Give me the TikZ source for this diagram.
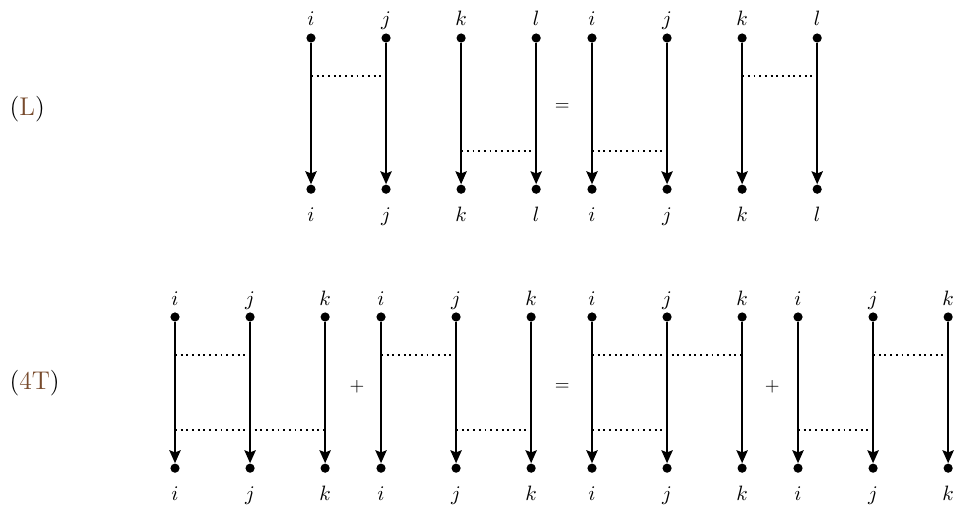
\documentclass[tikz,border=0pt]{standalone}
\usepackage{amsmath, amssymb}
\usepackage{tikz}
\usetikzlibrary{arrows.meta, positioning, calc}

\definecolor{tagbrown}{RGB}{120,75,45}

\begin{document}
\begin{tikzpicture}[
    dot/.style={circle, fill=black, inner sep=0pt, minimum size=0.17cm},
    strand/.style={line width=1pt, -{Stealth[length=2.4mm, width=2.1mm, inset=0.4mm]}},
    chord/.style={dotted, line width=1pt},
    idx/.style={anchor=base, inner sep=0pt, font=\fontsize{10.5}{12}\selectfont},
    op/.style={inner sep=0pt},
    tag/.style={anchor=base west, inner sep=0pt, font=\fontsize{13.5}{15}\selectfont}
]
    \useasboundingbox (0,0) rectangle (17.685,-9.444);

    % (L): 左边
    \node[tag] (tagL) at (0.17,-2.13) {(\textcolor{tagbrown}{L})};
    \begin{scope}[shift={(5.759,-0.704)}]
        \foreach \x/\s in {0/i,1/j,2/k,3/l} {
            \node[dot] (t\s) at (\x*1.39,0) {};
            \node[dot] (b\s) at (\x*1.39,-2.8) {};
            \node[idx] (u\s) at (\x*1.39,0.23) {$\s$};
            \node[idx] (d\s) at (\x*1.39,-3.39) {$\s$};
            \draw[strand] (t\s) -- (b\s);
        }
        \draw[chord] ($(ti)!0.25!(bi)$) -- ($(tj)!0.25!(bj)$);
        \draw[chord] ($(tk)!0.75!(bk)$) -- ($(tl)!0.75!(bl)$);
    \end{scope}
    \node[op] (eqL) at (10.41,-1.98) {$=$};
    \begin{scope}[shift={(10.963,-0.704)}]
        \foreach \x/\s in {0/i,1/j,2/k,3/l} {
            \node[dot] (t\s) at (\x*1.39,0) {};
            \node[dot] (b\s) at (\x*1.39,-2.8) {};
            \node[idx] (u\s) at (\x*1.39,0.23) {$\s$};
            \node[idx] (d\s) at (\x*1.39,-3.39) {$\s$};
            \draw[strand] (t\s) -- (b\s);
        }
        \draw[chord] ($(ti)!0.75!(bi)$) -- ($(tj)!0.75!(bj)$);
        \draw[chord] ($(tk)!0.25!(bk)$) -- ($(tl)!0.25!(bl)$);
    \end{scope}

    % (4T)
    \node[tag] (tagT) at (0.17,-7.22) {(\textcolor{tagbrown}{4T})};
    \begin{scope}[shift={(3.241,-5.87)}]
        \foreach \x/\s in {0/i,1/j,2/k} {
            \node[dot] (t\s) at (\x*1.39,0) {};
            \node[dot] (b\s) at (\x*1.39,-2.8) {};
            \node[idx] (u\s) at (\x*1.39,0.22) {$\s$};
            \node[idx] (d\s) at (\x*1.39,-3.39) {$\s$};
            \draw[strand] (t\s) -- (b\s);
        }
        \draw[chord] ($(ti)!0.25!(bi)$) -- ($(tj)!0.25!(bj)$);
        \draw[chord] ($(ti)!0.75!(bi)$) -- ($(tk)!0.75!(bk)$);
    \end{scope}
    \node[op] (plusA) at (6.61,-7.16) {$+$};
    \begin{scope}[shift={(7.056,-5.87)}]
        \foreach \x/\s in {0/i,1/j,2/k} {
            \node[dot] (t\s) at (\x*1.39,0) {};
            \node[dot] (b\s) at (\x*1.39,-2.8) {};
            \node[idx] (u\s) at (\x*1.39,0.22) {$\s$};
            \node[idx] (d\s) at (\x*1.39,-3.39) {$\s$};
            \draw[strand] (t\s) -- (b\s);
        }
        \draw[chord] ($(ti)!0.25!(bi)$) -- ($(tj)!0.25!(bj)$);
        \draw[chord] ($(tj)!0.75!(bj)$) -- ($(tk)!0.75!(bk)$);
    \end{scope}
    \node[op] (eqT) at (10.41,-7.16) {$=$};
    \begin{scope}[shift={(10.963,-5.87)}]
        \foreach \x/\s in {0/i,1/j,2/k} {
            \node[dot] (t\s) at (\x*1.39,0) {};
            \node[dot] (b\s) at (\x*1.39,-2.8) {};
            \node[idx] (u\s) at (\x*1.39,0.22) {$\s$};
            \node[idx] (d\s) at (\x*1.39,-3.39) {$\s$};
            \draw[strand] (t\s) -- (b\s);
        }
        \draw[chord] ($(ti)!0.25!(bi)$) -- ($(tk)!0.25!(bk)$);
        \draw[chord] ($(ti)!0.75!(bi)$) -- ($(tj)!0.75!(bj)$);
    \end{scope}
    \node[op] (plusB) at (14.30,-7.16) {$+$};
    \begin{scope}[shift={(14.778,-5.87)}]
        \foreach \x/\s in {0/i,1/j,2/k} {
            \node[dot] (t\s) at (\x*1.39,0) {};
            \node[dot] (b\s) at (\x*1.39,-2.8) {};
            \node[idx] (u\s) at (\x*1.39,0.22) {$\s$};
            \node[idx] (d\s) at (\x*1.39,-3.39) {$\s$};
            \draw[strand] (t\s) -- (b\s);
        }
        \draw[chord] ($(tj)!0.25!(bj)$) -- ($(tk)!0.25!(bk)$);
        \draw[chord] ($(ti)!0.75!(bi)$) -- ($(tj)!0.75!(bj)$);
    \end{scope}
\end{tikzpicture}
\end{document}
